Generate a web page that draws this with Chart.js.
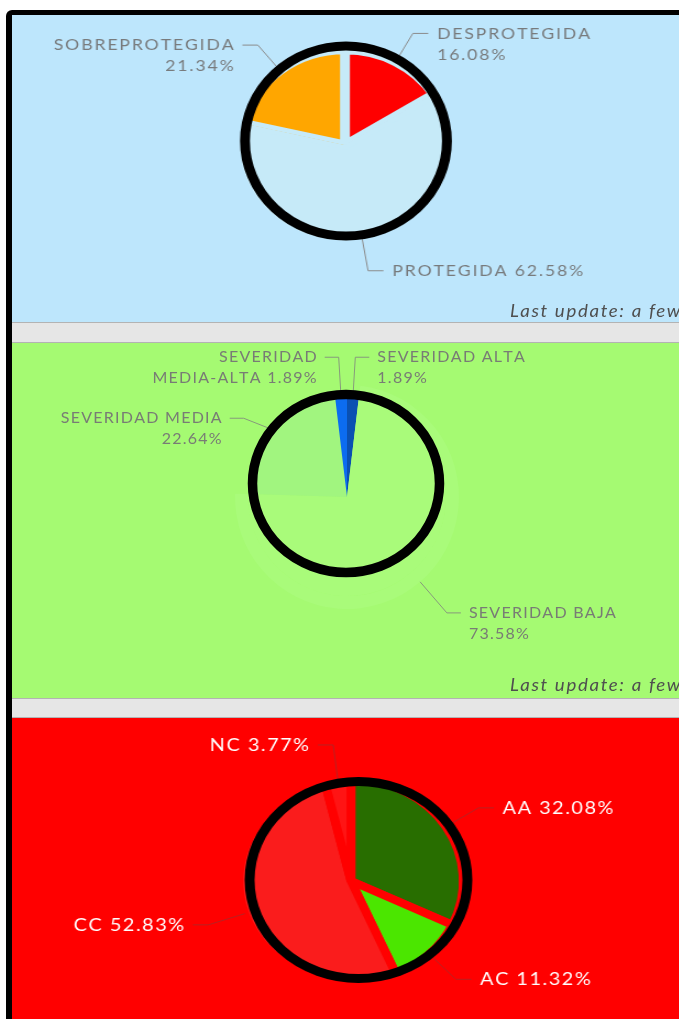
<!DOCTYPE html>
<html lang="es">
<head>
<meta charset="utf-8">
<title>Indicadores de protección</title>
<script src="https://cdn.jsdelivr.net/npm/chart.js@4.4.1/dist/chart.umd.min.js"></script>
<style>
  html, body { margin:0; padding:0; width:679px; height:1019px; overflow:hidden; background:#fff; }
  body { position:relative; font-family: Lato, "Open Sans", sans-serif; }
  #frame { position:absolute; left:6px; top:10px; width:800px; height:1100px; box-sizing:border-box;
           border-top:5px solid #000; border-left:6px solid #000; border-top-left-radius:6px; }
  .panel { position:absolute; left:12px; width:667px; overflow:hidden; }
  .sep { position:absolute; left:12px; width:667px; box-sizing:border-box; background:#e6e6e6;
         border-top:1px solid #b3b3b3; border-bottom:1px solid #b3b3b3; }
  .stretch { position:absolute; left:0; top:0; transform-origin:0 0; }
  .stretch canvas { display:block; }
  .stamp { position:absolute; left:498px; white-space:nowrap; font-style:italic; font-size:17px; line-height:20px;
           color:#4f4f4f; letter-spacing:1.5px; transform:scaleX(1.1); transform-origin:0 0; }
</style>
</head>
<body>
<div id="frame"></div>

<div class="panel" style="top:15px;height:307px;background:#bde6fc">
  <div class="stretch" style="transform:scaleX(1.1)">
    <canvas id="protChart" width="607" height="307"></canvas>
  </div>
  <div class="stamp" style="top:286px">Last update: a few seconds ago</div>
</div>
<div class="sep" style="top:322px;height:21px"></div>

<div class="panel" style="top:343px;height:355px;background:#a5fa72">
  <div class="stretch">
    <canvas id="sevChart" width="667" height="355"></canvas>
  </div>
  <div class="stamp" style="top:332px">Last update: a few seconds ago</div>
</div>
<div class="sep" style="top:698px;height:20px"></div>

<div class="panel" style="top:718px;height:301px;background:#ff0000">
  <div class="stretch" style="transform:scaleX(1.1)">
    <canvas id="clsChart" width="607" height="301"></canvas>
  </div>
</div>

<script>
// Estado de protección
const protCategories = ['DESPROTEGIDA', 'PROTEGIDA', 'SOBREPROTEGIDA'];
const protValues = [16.08, 62.58, 21.34];

// Severidad
const sevCategories = ['SEVERIDAD ALTA', 'SEVERIDAD BAJA', 'SEVERIDAD MEDIA', 'SEVERIDAD MEDIA-ALTA'];
const sevValues = [1.89, 73.58, 22.64, 1.89];

// Clases
const clsCategories = ['AA', 'AC', 'CC', 'NC'];
const clsValues = [32.08, 11.32, 52.83, 3.77];

const protColors = ['#ff0000', '#c6eaf8', '#ffa600'];
const sevColors = ['#0a50b2', '#a9fb7a', '#a1f57f', '#0c6cf0'];
const clsColors = ['#286e00', '#4be600', '#fa1c1c', '#ff1414'];
const sevHighlight = 1; // slice drawn with the enlarged hover halo

const CLEAR = 'rgba(0,0,0,0)';

function spacedWidth(ctx, s, sp) {
  let w = 0;
  for (const ch of s) w += ctx.measureText(ch).width;
  return w + sp * Math.max(s.length - 1, 0);
}

function drawSpaced(ctx, s, x, y, side, sp) {
  let cx = side > 0 ? x : x - spacedWidth(ctx, s, sp);
  for (const ch of s) {
    ctx.fillText(ch, cx, y);
    cx += ctx.measureText(ch).width + sp;
  }
}

function wrapWords(ctx, text, maxW, sp) {
  const words = text.split(' ');
  const lines = [];
  let cur = '';
  for (const w of words) {
    const t = cur ? cur + ' ' + w : w;
    if (cur && spacedWidth(ctx, t, sp) > maxW) { lines.push(cur); cur = w; }
    else cur = t;
  }
  lines.push(cur);
  return lines;
}

// outermost visible arc of slice i (a slice may also appear in the halo ring)
function outerArc(chart, i) {
  let best = null;
  chart.data.datasets.forEach((ds, d) => {
    const col = Array.isArray(ds.backgroundColor) ? ds.backgroundColor[i] : ds.backgroundColor;
    if (col === CLEAR) return;
    const arc = chart.getDatasetMeta(d).data[i];
    if (!best || arc.outerRadius > best.outerRadius) best = arc;
  });
  return best;
}

// outside labels with elbow leader lines; labels on one side are kept from overlapping
const sliceLabels = {
  id: 'sliceLabels',
  afterDatasetsDraw(chart, _args, o) {
    const ctx = chart.ctx;
    const main = chart.data.datasets[o.dataset];
    const total = main.data.reduce((s, v) => s + v, 0);
    ctx.save();
    ctx.font = `${o.weight} ${o.size}px ${o.family}`;
    ctx.textBaseline = 'middle';
    ctx.textAlign = 'left';

    const items = chart.data.labels.map((name, i) => {
      const arc = outerArc(chart, i);
      const p = arc.getProps(['x', 'y', 'startAngle', 'endAngle', 'outerRadius'], true);
      const mid = (p.startAngle + p.endAngle) / 2;
      const ux = Math.cos(mid), uy = Math.sin(mid);
      const r1 = p.outerRadius + o.tick;
      const text = `${name} ${(main.data[i] / total * 100).toFixed(2)}%`;
      return {
        side: ux >= 0 ? 1 : -1,
        x0: p.x + ux * p.outerRadius, y0: p.y + uy * p.outerRadius,
        x1: p.x + ux * r1, y1: p.y + uy * r1,
        lines: wrapWords(ctx, text, o.maxWidth, o.spacing)
      };
    });

    [-1, 1].forEach(side => {
      const col = items.filter(it => it.side === side).sort((a, b) => a.y1 - b.y1);
      for (let k = 1; k < col.length; k++) {
        const prev = col[k - 1];
        const minY = prev.y1 + prev.lines.length * o.lineHeight + o.pad;
        if (col[k].y1 < minY) {
          // a pushed label keeps its elbow on the leader's direction line
          const it = col[k];
          const t = (minY - it.y0) / (it.y1 - it.y0);
          it.x1 = it.x0 + (it.x1 - it.x0) * Math.max(t, 1) ;
          it.y1 = minY;
        }
      }
    });

    items.forEach(it => {
      const x2 = it.x1 + it.side * o.arm;
      ctx.beginPath();
      ctx.moveTo(it.x0, it.y0); ctx.lineTo(it.x1, it.y1); ctx.lineTo(x2, it.y1);
      ctx.strokeStyle = o.lineColor; ctx.lineWidth = 1; ctx.stroke();
      ctx.fillStyle = o.color;
      it.lines.forEach((ln, k) =>
        drawSpaced(ctx, ln, x2 + it.side * o.gap, it.y1 + k * o.lineHeight, it.side, o.spacing));
    });
    ctx.restore();
  }
};

// marker-pen ellipse drawn round the pie
const penCircle = {
  id: 'penCircle',
  afterDraw(chart, _args, o) {
    const arc = chart.getDatasetMeta(chart.data.datasets.length - 1).data[0];
    const ctx = chart.ctx;
    ctx.save();
    ctx.beginPath();
    ctx.ellipse(arc.x + o.dx, arc.y + o.dy, o.rx, o.ry, 0, 0, Math.PI * 2);
    ctx.lineWidth = o.width;
    ctx.strokeStyle = o.color;
    ctx.stroke();
    ctx.restore();
  }
};

function centeredPadding(canvas, cx, cy, half) {
  return { left: cx - half, right: canvas.width - cx - half, top: cy - half, bottom: canvas.height - cy - half };
}

function makePie(canvasId, labels, datasets, opt) {
  const canvas = document.getElementById(canvasId);
  return new Chart(canvas, {
    type: 'pie',
    data: { labels, datasets },
    options: {
      responsive: false,
      animation: false,
      events: [],
      radius: opt.radius,
      layout: { padding: centeredPadding(canvas, opt.cx, opt.cy, opt.half) },
      plugins: {
        legend: { display: false },
        tooltip: { enabled: false },
        sliceLabels: opt.labels,
        penCircle: opt.ring
      }
    },
    plugins: [sliceLabels, penCircle]
  });
}

const grayLabels = {
  dataset: 0, family: 'Lato', weight: 400, size: 16, spacing: 1.7,
  color: '#787b7d', lineColor: '#8c8c8c', tick: 32, arm: 14, gap: 8,
  maxWidth: 185, lineHeight: 21, pad: 19
};

const charts = [];

charts.push(makePie('protChart', protCategories, [{
  data: protValues,
  backgroundColor: protColors,
  borderColor: protColors[1],
  borderWidth: 4.5,
  borderAlign: 'inner',
  clip: false
}], {
  cx: 302.7, cy: 130, half: 110, radius: 95.5,
  labels: Object.assign({}, grayLabels),
  ring: { dx: 0.9, dy: -4, rx: 91.8, ry: 95, width: 9, color: '#000' }
}));

charts.push(makePie('sevChart', sevCategories, [{
  data: sevValues,
  backgroundColor: sevValues.map((_, i) => i === sevHighlight ? sevColors[i] : CLEAR),
  borderWidth: 0,
  weight: 13,
  clip: false
}, {
  data: sevValues,
  backgroundColor: sevColors,
  borderWidth: 0,
  weight: 99,
  clip: false
}], {
  cx: 335, cy: 154, half: 120, radius: 112,
  labels: Object.assign({}, grayLabels, {
    dataset: 1, tick: 41, spacing: 1.26, color: '#787c75', lineColor: '#879a7c'
  }),
  ring: { dx: -1, dy: -13.5, rx: 93.5, ry: 89, width: 9.5, color: '#000' }
}));

charts.push(makePie('clsChart', clsCategories, [{
  data: clsValues,
  backgroundColor: clsColors,
  borderColor: '#ff0000',
  borderWidth: 8,
  clip: false
}], {
  cx: 308.2, cy: 163, half: 110, radius: 102,
  labels: Object.assign({}, grayLabels, {
    size: 18, spacing: 1.4, color: '#ffffff', lineColor: '#b82222', tick: 35, arm: 14, gap: 8
  }),
  ring: { dx: 6.8, dy: -1, rx: 99, ry: 98.5, width: 9, color: '#000' }
}));

if (document.fonts && document.fonts.ready) {
  document.fonts.ready.then(() => charts.forEach(c => c.draw()));
}
</script>
</body>
</html>
